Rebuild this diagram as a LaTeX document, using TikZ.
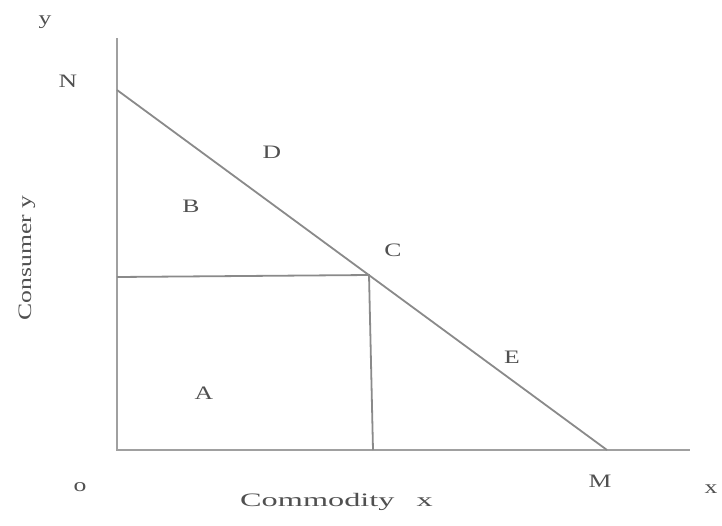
\documentclass[tikz,border=0pt]{standalone}
\usepackage{fontspec}
\setmainfont{Liberation Serif}
\newfontfamily\labfont[FakeStretch=1.35]{Liberation Serif}
\newfontfamily\widefont[FakeStretch=1.7]{Liberation Serif}
\usepackage{tikz}
\usetikzlibrary{positioning}
\definecolor{Axis}{HTML}{A0A0A0}
\definecolor{Line}{HTML}{8A8A8A}
\definecolor{Ink}{HTML}{505050}

\begin{document}
\begin{tikzpicture}[x=1pt,y=-1pt,
lab/.style={text=Ink,inner sep=0pt,font=\labfont\fontsize{19}{20}\selectfont},
axlab/.style={text=Ink,inner sep=0pt,font=\widefont\fontsize{19}{20}\selectfont},
ax/.style={draw=Axis,line width=2.2pt},
ln/.style={draw=Line,line width=1.8pt}]
\useasboundingbox (0,0) rectangle (722,525);
% points
\coordinate (o) at (117,450);
\coordinate (ytop) at (117,38);
\coordinate (xend) at (690,450);
\coordinate (n) at (117,90);
\coordinate (m) at (607,450);
\coordinate (c) at (369,275);
\coordinate (cy) at (117,277);
\coordinate (cx) at (373,450);
% axes and lines
\draw[ax] (ytop)--(o)--(xend);
\draw[ln] (n)--(m);
\draw[ln] (cy)--(c)--(cx);
% labels
\node[lab] (ly) at (45,22) {y};
\node[lab] (ln) at (68,81) {N};
\node[lab] (ld) at (272,152) {D};
\node[lab] (lb) at (191,206) {B};
\node[lab] (lc) at (393,250) {C};
\node[lab] (le) at (512,357) {E};
\node[lab] (la) at (204,393) {A};
\node[lab] (lo) at (80,487) {o};
\node[lab] (lm) at (600,481) {M};
\node[lab] (lx) at (711,489) {x};
\node[axlab,anchor=west] (lcom) at (240,502) {Commodity\hspace{22pt}x};
\node[lab,rotate=90] (lcon) at (27,258) {Consumer y};
\end{tikzpicture}
\end{document}
